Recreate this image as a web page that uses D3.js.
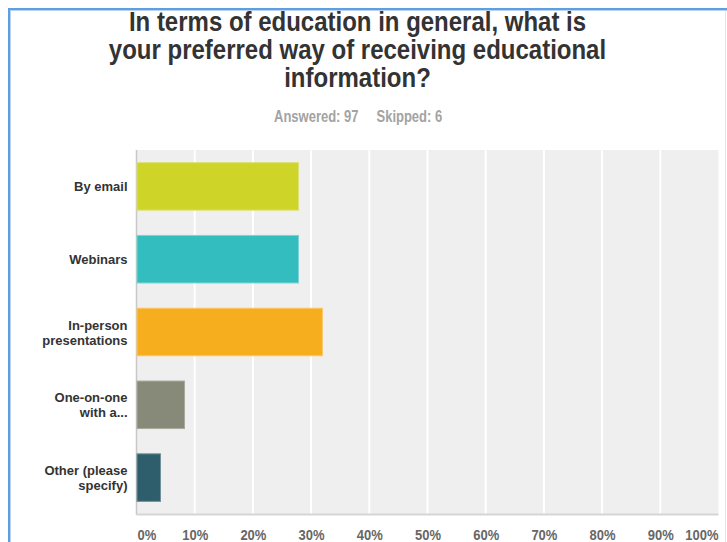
<!DOCTYPE html>
<html>
<head>
<meta charset="utf-8">
<script src="https://cdn.jsdelivr.net/npm/d3@7"></script>
<style>
  html, body { margin: 0; padding: 0; background: #fff; }
  svg { display: block; }
  text { font-family: "Liberation Sans", Arial, Helvetica, sans-serif; }
</style>
</head>
<body>
<svg id="chart" width="727" height="542"></svg>
<script>
// Survey question and response summary
const titleLines = [
  "In terms of education in general, what is",
  "your preferred way of receiving educational",
  "information?"
];
const answeredText = "Answered: 97";
const skippedText = "Skipped: 6";

// Answer choices (each entry is the wrapped label lines) and share of respondents (%)
const categories = [
  ["By email"],
  ["Webinars"],
  ["In-person", "presentations"],
  ["One-on-one", "with a..."],
  ["Other (please", "specify)"]
];
const percents = [27.84, 27.84, 31.96, 8.25, 4.12];
const barColors = ["#cfd428", "#33bdbf", "#f6ae1f", "#878a78", "#2e5e6b"];
const barEdges = ["#dde07a", "#7fd3d4", "#f9c86a", "#a9ab9d", "#6f8f98"];

// Axis ticks
const tickValues = [0, 10, 20, 30, 40, 50, 60, 70, 80, 90, 100];

const svg = d3.select("#chart");
const W = 727, H = 542;
const plot = { left: 136.5, right: 718.5, top: 150, bottom: 514 };

// Text is drawn slightly taller than the stock glyphs
const stretch = (x, y, s) => `translate(${x},${y}) scale(1,${s})`;

// Frame of the panel
svg.append("line").attr("x1", 9).attr("x2", W).attr("y1", 9).attr("y2", 9)
  .attr("stroke", "#5f9fe0").attr("stroke-width", 2);
svg.append("line").attr("x1", 9).attr("x2", 9).attr("y1", 8).attr("y2", H)
  .attr("stroke", "#5f9fe0").attr("stroke-width", 2);
svg.append("line").attr("x1", 10.5).attr("x2", W).attr("y1", 10.5).attr("y2", 10.5)
  .attr("stroke", "#b8d4f2").attr("stroke-width", 1);
svg.append("line").attr("x1", 10.5).attr("x2", 10.5).attr("y1", 10).attr("y2", H)
  .attr("stroke", "#b8d4f2").attr("stroke-width", 1);
svg.append("line").attr("x1", 725.5).attr("x2", 725.5).attr("y1", 11).attr("y2", H)
  .attr("stroke", "#e4e4e4").attr("stroke-width", 1);

// Title
const cx = 357.5;
svg.append("g").selectAll("text").data(titleLines).join("text")
  .attr("transform", (d, i) => stretch(cx, 30.5 + i * 28.3, 1.12))
  .attr("text-anchor", "middle")
  .attr("font-size", 24)
  .attr("font-weight", "bold")
  .attr("fill", "#333")
  .text(d => d);

// Answered / skipped summary
svg.append("text").attr("transform", stretch(358.5, 122.3, 1.2))
  .attr("text-anchor", "end").attr("font-size", 13).attr("font-weight", "bold")
  .attr("fill", "#a3a3a3").text(answeredText);
svg.append("text").attr("transform", stretch(376.5, 122.3, 1.2))
  .attr("text-anchor", "start").attr("font-size", 13).attr("font-weight", "bold")
  .attr("fill", "#a3a3a3").text(skippedText);

// Scales
const x = d3.scaleLinear().domain([0, 100]).range([plot.left, plot.right]);
const y = d3.scaleBand().domain(d3.range(categories.length))
  .range([plot.top, plot.bottom]).paddingInner(1 / 3).paddingOuter(1 / 6);

// Plot background
svg.append("rect")
  .attr("x", plot.left).attr("y", plot.top)
  .attr("width", plot.right - plot.left).attr("height", plot.bottom - plot.top)
  .attr("fill", "#efefef");

// Vertical gridlines
svg.append("g").selectAll("line").data(tickValues.slice(1, -1)).join("line")
  .attr("x1", d => x(d)).attr("x2", d => x(d))
  .attr("y1", plot.top).attr("y2", plot.bottom)
  .attr("stroke", "#ffffff").attr("stroke-width", 2);

// Axis lines
svg.append("line").attr("x1", plot.left).attr("x2", plot.left)
  .attr("y1", plot.top).attr("y2", plot.bottom + 1)
  .attr("stroke", "#c8c8c8").attr("stroke-width", 1.5);
svg.append("line").attr("x1", plot.left).attr("x2", plot.right)
  .attr("y1", plot.bottom + 0.5).attr("y2", plot.bottom + 0.5)
  .attr("stroke", "#d6d6d6").attr("stroke-width", 2);

// Bars
svg.append("g").selectAll("rect").data(percents).join("rect")
  .attr("x", x(0) + 0.5)
  .attr("y", (d, i) => y(i) + 0.5)
  .attr("width", d => x(d) - x(0) - 0.5)
  .attr("height", y.bandwidth() - 1)
  .attr("fill", (d, i) => barColors[i])
  .attr("stroke", (d, i) => barEdges[i])
  .attr("stroke-width", 1);

// Category labels, wrapped onto stacked lines
const lh = 15;
svg.append("g").selectAll("text").data(categories).join("text")
  .attr("text-anchor", "end")
  .attr("font-size", 13)
  .attr("font-weight", "bold")
  .attr("fill", "#333")
  .each(function (lines, i) {
    const mid = y(i) + y.bandwidth() / 2;
    const first = lines.length === 1 ? mid + 5 : mid - 2.5;
    d3.select(this).selectAll("tspan").data(lines).join("tspan")
      .attr("x", 127.5)
      .attr("y", (d, j) => first + j * lh)
      .text(d => d);
  });

// X axis tick labels
const axis = d3.axisBottom(x).tickValues(tickValues).tickSize(0).tickPadding(0)
  .tickFormat(d => d + "%");
const gx = svg.append("g").attr("transform", `translate(0,${plot.bottom})`).call(axis);
gx.select(".domain").remove();
gx.selectAll("text")
  .attr("y", 26 / 1.1)
  .attr("dy", null)
  .attr("transform", "scale(1,1.1)")
  .attr("font-size", 13)
  .attr("font-weight", "bold")
  .attr("font-family", "'Liberation Sans', Arial, sans-serif")
  .attr("fill", "#666")
  .attr("text-anchor", d => d === 0 ? "start" : d === 100 ? "end" : "middle")
  .attr("dx", d => d === 0 ? 0.5 : d === 100 ? -0.5 : 0);
</script>
</body>
</html>
